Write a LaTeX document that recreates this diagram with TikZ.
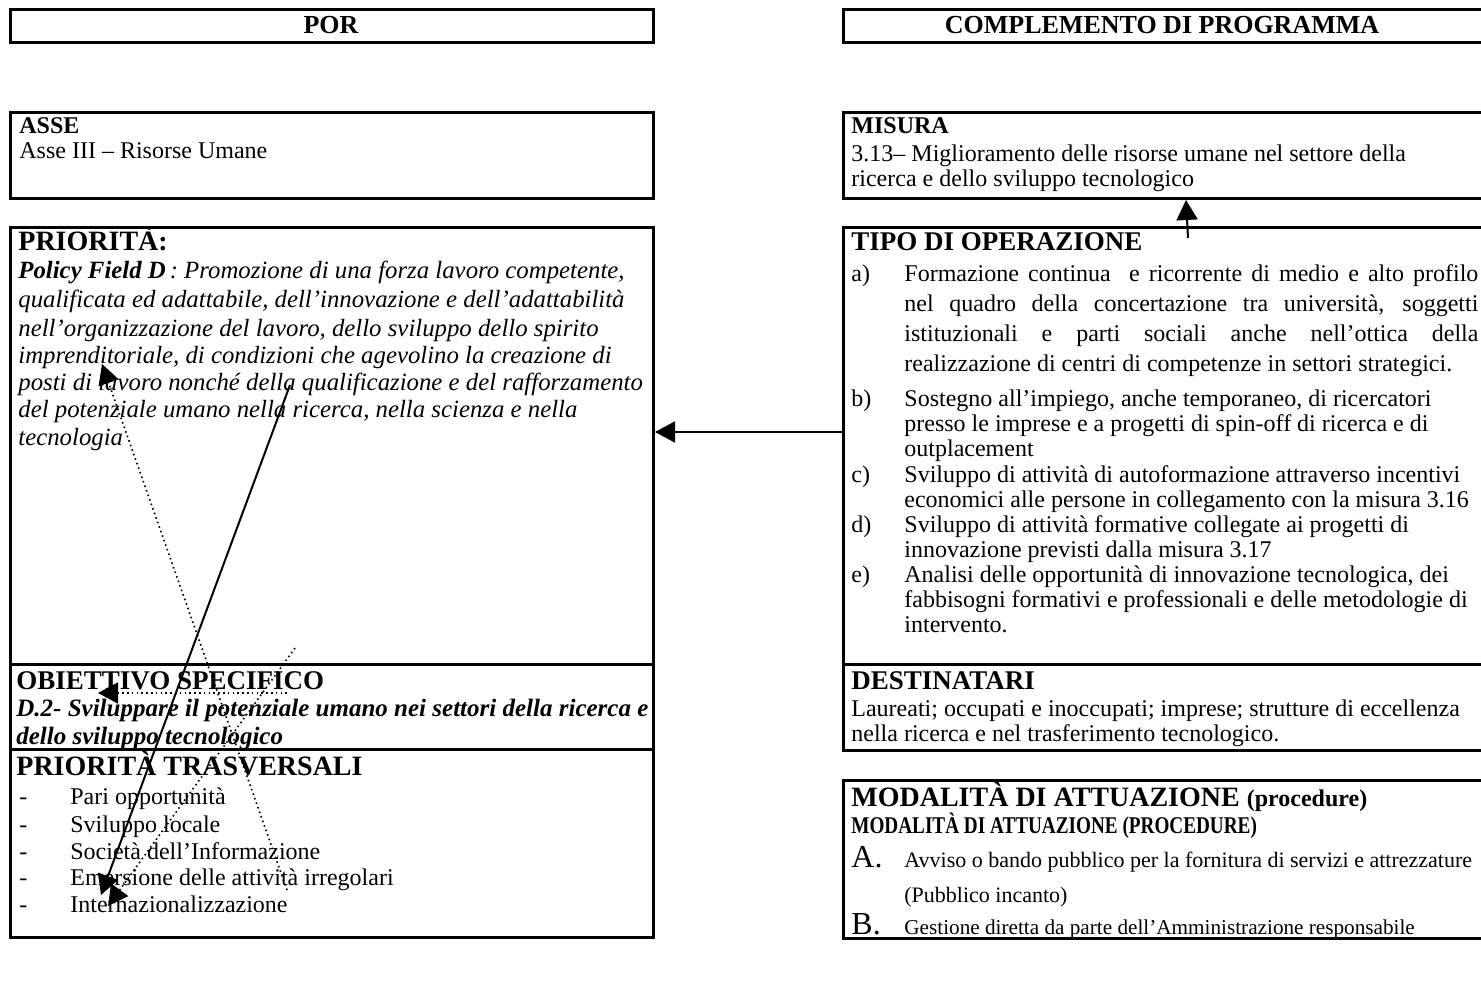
\documentclass[tikz,border=0pt]{standalone}
\usepackage{fontspec}
\usepackage{graphicx}
\setmainfont{Liberation Serif}
\usetikzlibrary{arrows.meta,fit}
\newcommand{\fsz}[1]{\fontsize{#1}{#1}\selectfont}
\begin{document}
\begin{tikzpicture}[x=0.5pt,y=-0.5pt,
  box/.style={draw, line width=1.5pt, inner sep=0pt},
  txt/.style={anchor=base west, inner sep=0pt, font=\fsz{12}},
  itx/.style={txt, font=\fsz{12.4}\itshape},
  bix/.style={txt, font=\fsz{12.5}\bfseries\itshape},
  hd/.style={txt, font=\fsz{13.5}\bfseries},
  shd/.style={txt, font=\fsz{12}\bfseries},
  sm/.style={txt, font=\fsz{11}},
  big/.style={txt, font=\fsz{16}},
  conn/.style={line width=1pt, -{Triangle[length=10pt,width=10.5pt]}},
  dconn/.style={line width=0.8pt, dash pattern=on 0.8pt off 1.6pt, -{Triangle[length=10pt,width=10.5pt,sep=0pt]}},
]
\useasboundingbox (0,0) rectangle (1481,999);
\clip (0,0) rectangle (1481,999);
\fill[white] (0,0) rectangle (1481,999);

% ---- boxes left
\node[box, fit={(10,10) (653,43)}] (por) {};
\node[box, fit={(10,113) (653,199)}] (asse) {};
\node[box, fit={(10,228) (653,664)}] (prio) {};
\node[box, fit={(10,664) (653,749)}] (obj) {};
\node[box, fit={(10,749) (653,937)}] (trasv) {};
% ---- boxes right
\node[box, fit={(843,10) (1486,43)}] (comp) {};
\node[box, fit={(843,113) (1486,199)}] (mis) {};
\node[box, fit={(843,228) (1486,664)}] (tipo) {};
\node[box, fit={(843,664) (1486,750)}] (dest) {};
\node[box, fit={(843,780) (1486,938)}] (moda) {};

% ---- headers
\node[txt, anchor=base, font=\fsz{13}\bfseries] (porT) at (331,34) {POR};
\node[txt, anchor=base, font=\fsz{13}\bfseries] (compT) at (1162,34) {COMPLEMENTO DI PROGRAMMA};

% ---- ASSE
\node[shd] (asseH) at (19,134) {ASSE};
\node[txt] (asseT) at (19,159) {Asse III – Risorse Umane};

% ---- PRIORITA
\node[hd, font=\fsz{14}\bfseries] (prioH) at (18,251) {PRIORITÀ:};
\node[itx] (p1) at (18,279) {{\bfseries Policy Field D}\kern2pt: Promozione di una forza lavoro competente,};
\node[itx] (p2) at (18,308) {qualificata ed adattabile, dell’innovazione e dell’adattabilità};
\node[itx] (p3) at (18,337) {nell’organizzazione del lavoro, dello sviluppo dello spirito};
\node[itx] (p4) at (18,364) {imprenditoriale, di condizioni che agevolino la creazione di};
\node[itx] (p5) at (18,391) {posti di lavoro nonché della qualificazione e del rafforzamento};
\node[itx] (p6) at (18,418) {del potenziale umano nella ricerca, nella scienza e nella};
\node[itx] (p7) at (18,445) {tecnologia};

% ---- OBIETTIVO
\node[hd] (objH) at (16,689) {OBIETTIVO SPECIFICO};
\node[bix] (o1) at (16,716) {D.2- Sviluppare il potenziale umano nei settori della ricerca e};
\node[bix] (o2) at (16,744) {dello sviluppo tecnologico};

% ---- TRASVERSALI
\node[hd, font=\fsz{14}\bfseries] (trH) at (16,775) {PRIORITÀ TRASVERSALI};
\foreach \y/\t [count=\i] in {804/Pari opportunità, 832/Sviluppo locale, 859/Società dell’Informazione, 885/Emersione delle attività irregolari, 912/Internazionalizzazione}{
  \node[txt] (trd\i) at (19,\y) {-};
  \node[txt] (tr\i) at (70,\y) {\t};
}

% ---- MISURA
\node[shd] (misH) at (851,134) {MISURA};
\node[txt] (m1) at (851,162) {3.13– Miglioramento delle risorse umane nel settore della};
\node[txt] (m2) at (851,187) {ricerca e dello sviluppo tecnologico};

% ---- TIPO DI OPERAZIONE
\node[hd] (tipoH) at (851,251) {TIPO DI OPERAZIONE};
\node[txt] (la) at (851,282) {a)};
\node[txt] (a1) at (904,282) {\makebox[287pt][s]{Formazione continua \ e ricorrente di medio e alto profilo}};
\node[txt] (a2) at (904,312) {\makebox[287pt][s]{nel quadro della concertazione tra università, soggetti}};
\node[txt] (a3) at (904,342) {\makebox[287pt][s]{istituzionali e parti sociali anche nell’ottica della}};
\node[txt] (a4) at (904,372) {realizzazione di centri di competenze in settori strategici.};
\node[txt] (lb) at (851,407) {b)};
\node[txt] (b1) at (904,407) {Sostegno all’impiego, anche temporaneo, di ricercatori};
\node[txt] (b2) at (904,432) {presso le imprese e a progetti di spin-off di ricerca e di};
\node[txt] (b3) at (904,457) {outplacement};
\node[txt] (lc) at (851,482) {c)};
\node[txt] (c1) at (904,482) {Sviluppo di attività di autoformazione attraverso incentivi};
\node[txt] (c2) at (904,507) {economici alle persone in collegamento con la misura 3.16};
\node[txt] (ld) at (851,532) {d)};
\node[txt] (d1) at (904,532) {Sviluppo di attività formative collegate ai progetti di};
\node[txt] (d2) at (904,557) {innovazione previsti dalla misura 3.17};
\node[txt] (le) at (851,582) {e)};
\node[txt] (e1) at (904,582) {Analisi delle opportunità di innovazione tecnologica, dei};
\node[txt] (e2) at (904,607) {fabbisogni formativi e professionali e delle metodologie di};
\node[txt] (e3) at (904,632) {intervento.};

% ---- DESTINATARI
\node[hd] (destH) at (851,689) {DESTINATARI};
\node[txt] (de1) at (851,716) {Laureati; occupati e inoccupati; imprese; strutture di eccellenza};
\node[txt] (de2) at (851,741) {nella ricerca e nel trasferimento tecnologico.};

% ---- MODALITA
\node[hd, font=\fsz{14}\bfseries] (modH) at (851,806) {MODALITÀ DI ATTUAZIONE {\fsz{12}(procedure)}};
\node[txt, font=\fsz{12}\bfseries] (modH2) at (851,833) {\scalebox{0.8}[1]{MODALITÀ DI ATTUAZIONE (PROCEDURE)}};
\node[big] (lA) at (851,867) {A.};
\node[sm] (A1) at (904,867) {Avviso o bando pubblico per la fornitura di servizi e attrezzature};
\node[sm] (A2) at (904,902) {(Pubblico incanto)};
\node[big] (lB) at (851,934) {B.};
\node[sm, font=\fsz{10.6}] (B1) at (904,934) {Gestione diretta da parte dell’Amministrazione responsabile};

% ---- connectors
\coordinate (h1s) at (843,432);
\coordinate (h1e) at (655,432);
\draw[conn] (h1s) -- (h1e);
\coordinate (v1s) at (1188,238);
\coordinate (v1e) at (1186,200);
\draw[conn] (v1s) -- (v1e);

\coordinate (s1s) at (290,385);
\coordinate (s1e) at (101,895);
\draw[conn] (s1s) -- (s1e);

\coordinate (d1s) at (287,890);
\coordinate (d1e) at (102,364);
\draw[dconn] (d1s) -- (d1e);

\coordinate (d2s) at (295,648);
\coordinate (d2e) at (108,906);
\draw[dconn] (d2s) -- (d2e);

\coordinate (d3s) at (287,693);
\coordinate (d3e) at (98,693);
\draw[dconn] (d3s) -- (d3e);
\end{tikzpicture}
\end{document}
